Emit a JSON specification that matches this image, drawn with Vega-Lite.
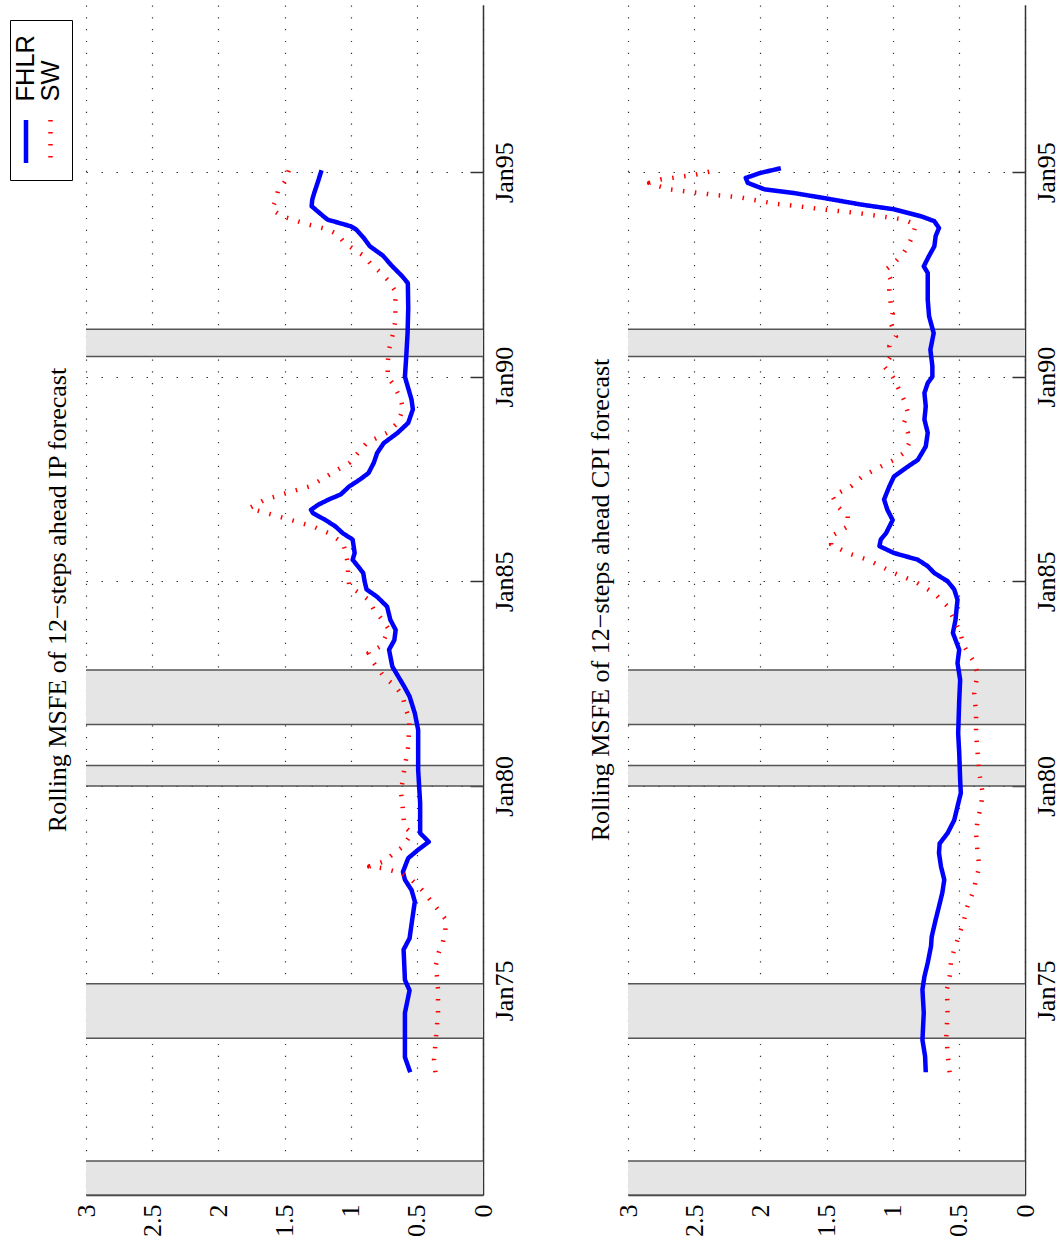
{
  "$schema": "https://vega.github.io/schema/vega-lite/v6.json",
  "padding": {"left": 9, "top": 5, "right": 0, "bottom": 0},
  "background": "white",
  "spacing": 70,
  "config": {
    "view": {"stroke": null},
    "font": "Liberation Serif",
    "axis": {"labelFont": "Liberation Serif", "labelFontSize": 26, "labelColor": "#000"},
    "title": {"font": "Liberation Serif", "fontSize": 26, "fontWeight": "normal", "color": "#000"}
  },
  "resolve": {"scale": {"color": "independent", "strokeDash": "independent"}, "legend": {"color": "independent", "strokeDash": "independent"}},
  "datasets": {
    "bands": [
      {"start": "1970-01-01", "end": "1970-11-01"},
      {"start": "1973-11-01", "end": "1975-03-01"},
      {"start": "1980-01-01", "end": "1980-07-01"},
      {"start": "1981-07-01", "end": "1982-11-01"},
      {"start": "1990-07-01", "end": "1991-03-01"}
    ],
    "ip": [
      {"series": "FHLR", "date": "1973-01-01", "value": 0.55},
      {"series": "FHLR", "date": "1973-05-15", "value": 0.59},
      {"series": "FHLR", "date": "1973-10-15", "value": 0.59},
      {"series": "FHLR", "date": "1974-06-15", "value": 0.59},
      {"series": "FHLR", "date": "1975-01-01", "value": 0.555},
      {"series": "FHLR", "date": "1975-04-05", "value": 0.59},
      {"series": "FHLR", "date": "1976-01-01", "value": 0.6},
      {"series": "FHLR", "date": "1976-04-10", "value": 0.555},
      {"series": "FHLR", "date": "1976-09-24", "value": 0.535},
      {"series": "FHLR", "date": "1977-03-05", "value": 0.515},
      {"series": "FHLR", "date": "1977-06-15", "value": 0.54},
      {"series": "FHLR", "date": "1977-09-15", "value": 0.59},
      {"series": "FHLR", "date": "1977-11-25", "value": 0.605},
      {"series": "FHLR", "date": "1978-03-27", "value": 0.565},
      {"series": "FHLR", "date": "1978-06-10", "value": 0.49},
      {"series": "FHLR", "date": "1978-08-20", "value": 0.41},
      {"series": "FHLR", "date": "1978-11-05", "value": 0.475},
      {"series": "FHLR", "date": "1979-08-01", "value": 0.475},
      {"series": "FHLR", "date": "1980-05-25", "value": 0.49},
      {"series": "FHLR", "date": "1981-05-15", "value": 0.49},
      {"series": "FHLR", "date": "1981-10-10", "value": 0.515},
      {"series": "FHLR", "date": "1982-03-10", "value": 0.555},
      {"series": "FHLR", "date": "1982-06-05", "value": 0.595},
      {"series": "FHLR", "date": "1982-12-01", "value": 0.685},
      {"series": "FHLR", "date": "1983-05-01", "value": 0.71},
      {"series": "FHLR", "date": "1983-07-25", "value": 0.67},
      {"series": "FHLR", "date": "1983-10-25", "value": 0.66},
      {"series": "FHLR", "date": "1984-01-22", "value": 0.7},
      {"series": "FHLR", "date": "1984-05-20", "value": 0.725},
      {"series": "FHLR", "date": "1984-08-15", "value": 0.8},
      {"series": "FHLR", "date": "1984-10-20", "value": 0.88},
      {"series": "FHLR", "date": "1985-01-01", "value": 0.895},
      {"series": "FHLR", "date": "1985-03-15", "value": 0.905},
      {"series": "FHLR", "date": "1985-05-15", "value": 0.945},
      {"series": "FHLR", "date": "1985-07-12", "value": 0.985},
      {"series": "FHLR", "date": "1985-09-10", "value": 0.97},
      {"series": "FHLR", "date": "1986-01-08", "value": 0.985},
      {"series": "FHLR", "date": "1986-03-06", "value": 1.06},
      {"series": "FHLR", "date": "1986-05-05", "value": 1.115},
      {"series": "FHLR", "date": "1986-07-01", "value": 1.19},
      {"series": "FHLR", "date": "1986-09-01", "value": 1.285},
      {"series": "FHLR", "date": "1986-10-01", "value": 1.3},
      {"series": "FHLR", "date": "1986-11-15", "value": 1.245},
      {"series": "FHLR", "date": "1987-01-01", "value": 1.165},
      {"series": "FHLR", "date": "1987-02-15", "value": 1.075},
      {"series": "FHLR", "date": "1987-04-28", "value": 1.01},
      {"series": "FHLR", "date": "1987-06-28", "value": 0.93},
      {"series": "FHLR", "date": "1987-08-25", "value": 0.865},
      {"series": "FHLR", "date": "1987-11-25", "value": 0.825},
      {"series": "FHLR", "date": "1988-02-20", "value": 0.8},
      {"series": "FHLR", "date": "1988-05-18", "value": 0.75},
      {"series": "FHLR", "date": "1988-08-18", "value": 0.645},
      {"series": "FHLR", "date": "1988-11-15", "value": 0.565},
      {"series": "FHLR", "date": "1989-03-15", "value": 0.53},
      {"series": "FHLR", "date": "1989-06-10", "value": 0.54},
      {"series": "FHLR", "date": "1989-10-10", "value": 0.57},
      {"series": "FHLR", "date": "1990-01-01", "value": 0.59},
      {"series": "FHLR", "date": "1990-07-01", "value": 0.58},
      {"series": "FHLR", "date": "1991-01-25", "value": 0.57},
      {"series": "FHLR", "date": "1991-09-05", "value": 0.565},
      {"series": "FHLR", "date": "1992-04-15", "value": 0.568},
      {"series": "FHLR", "date": "1992-06-15", "value": 0.61},
      {"series": "FHLR", "date": "1992-09-12", "value": 0.685},
      {"series": "FHLR", "date": "1992-12-15", "value": 0.755},
      {"series": "FHLR", "date": "1993-03-10", "value": 0.855},
      {"series": "FHLR", "date": "1993-05-22", "value": 0.9},
      {"series": "FHLR", "date": "1993-08-08", "value": 0.96},
      {"series": "FHLR", "date": "1993-09-05", "value": 1.0},
      {"series": "FHLR", "date": "1993-11-03", "value": 1.175},
      {"series": "FHLR", "date": "1994-01-01", "value": 1.235},
      {"series": "FHLR", "date": "1994-03-03", "value": 1.295},
      {"series": "FHLR", "date": "1994-05-01", "value": 1.29},
      {"series": "FHLR", "date": "1994-07-01", "value": 1.275},
      {"series": "FHLR", "date": "1994-09-27", "value": 1.25},
      {"series": "FHLR", "date": "1995-01-18", "value": 1.22},
      {"series": "SW", "date": "1973-01-01", "value": 0.36},
      {"series": "SW", "date": "1973-04-25", "value": 0.37},
      {"series": "SW", "date": "1973-11-15", "value": 0.355},
      {"series": "SW", "date": "1974-06-15", "value": 0.34},
      {"series": "SW", "date": "1975-01-10", "value": 0.34},
      {"series": "SW", "date": "1975-08-20", "value": 0.355},
      {"series": "SW", "date": "1975-12-05", "value": 0.335},
      {"series": "SW", "date": "1976-03-01", "value": 0.305},
      {"series": "SW", "date": "1976-06-10", "value": 0.285},
      {"series": "SW", "date": "1976-09-24", "value": 0.28},
      {"series": "SW", "date": "1977-03-05", "value": 0.39},
      {"series": "SW", "date": "1977-06-15", "value": 0.46},
      {"series": "SW", "date": "1977-09-15", "value": 0.54},
      {"series": "SW", "date": "1977-11-15", "value": 0.62},
      {"series": "SW", "date": "1977-12-28", "value": 0.76},
      {"series": "SW", "date": "1978-01-12", "value": 0.86},
      {"series": "SW", "date": "1978-02-25", "value": 0.75},
      {"series": "SW", "date": "1978-05-12", "value": 0.67},
      {"series": "SW", "date": "1978-07-08", "value": 0.605},
      {"series": "SW", "date": "1978-11-05", "value": 0.54},
      {"series": "SW", "date": "1979-01-05", "value": 0.595},
      {"series": "SW", "date": "1979-06-01", "value": 0.605},
      {"series": "SW", "date": "1979-11-10", "value": 0.62},
      {"series": "SW", "date": "1980-05-25", "value": 0.595},
      {"series": "SW", "date": "1980-12-20", "value": 0.565},
      {"series": "SW", "date": "1981-08-15", "value": 0.555},
      {"series": "SW", "date": "1981-12-10", "value": 0.59},
      {"series": "SW", "date": "1982-03-10", "value": 0.605},
      {"series": "SW", "date": "1982-06-05", "value": 0.66},
      {"series": "SW", "date": "1982-09-05", "value": 0.75},
      {"series": "SW", "date": "1983-01-01", "value": 0.825},
      {"series": "SW", "date": "1983-04-01", "value": 0.865},
      {"series": "SW", "date": "1983-05-30", "value": 0.775},
      {"series": "SW", "date": "1983-10-25", "value": 0.71},
      {"series": "SW", "date": "1984-01-22", "value": 0.76},
      {"series": "SW", "date": "1984-04-22", "value": 0.825},
      {"series": "SW", "date": "1984-07-20", "value": 0.865},
      {"series": "SW", "date": "1984-09-15", "value": 0.93},
      {"series": "SW", "date": "1984-11-15", "value": 1.01},
      {"series": "SW", "date": "1985-02-15", "value": 1.02},
      {"series": "SW", "date": "1985-05-15", "value": 1.02},
      {"series": "SW", "date": "1985-09-10", "value": 1.035},
      {"series": "SW", "date": "1985-12-10", "value": 1.06},
      {"series": "SW", "date": "1986-03-06", "value": 1.165},
      {"series": "SW", "date": "1986-05-05", "value": 1.285},
      {"series": "SW", "date": "1986-07-01", "value": 1.45},
      {"series": "SW", "date": "1986-09-01", "value": 1.635},
      {"series": "SW", "date": "1986-10-15", "value": 1.765},
      {"series": "SW", "date": "1987-01-01", "value": 1.645},
      {"series": "SW", "date": "1987-03-01", "value": 1.48},
      {"series": "SW", "date": "1987-04-28", "value": 1.31},
      {"series": "SW", "date": "1987-06-28", "value": 1.22},
      {"series": "SW", "date": "1987-08-25", "value": 1.14},
      {"series": "SW", "date": "1987-11-25", "value": 1.01},
      {"series": "SW", "date": "1988-02-20", "value": 0.945},
      {"series": "SW", "date": "1988-05-18", "value": 0.88},
      {"series": "SW", "date": "1988-08-18", "value": 0.725},
      {"series": "SW", "date": "1988-11-15", "value": 0.645},
      {"series": "SW", "date": "1989-03-15", "value": 0.605},
      {"series": "SW", "date": "1989-06-10", "value": 0.62},
      {"series": "SW", "date": "1989-10-10", "value": 0.67},
      {"series": "SW", "date": "1990-01-01", "value": 0.72},
      {"series": "SW", "date": "1990-05-05", "value": 0.72},
      {"series": "SW", "date": "1990-08-30", "value": 0.71},
      {"series": "SW", "date": "1990-12-28", "value": 0.685},
      {"series": "SW", "date": "1991-05-25", "value": 0.66},
      {"series": "SW", "date": "1991-10-20", "value": 0.665},
      {"series": "SW", "date": "1992-01-20", "value": 0.655},
      {"series": "SW", "date": "1992-05-01", "value": 0.71},
      {"series": "SW", "date": "1992-07-15", "value": 0.77},
      {"series": "SW", "date": "1992-09-28", "value": 0.845},
      {"series": "SW", "date": "1992-12-15", "value": 0.9},
      {"series": "SW", "date": "1993-02-10", "value": 0.975},
      {"series": "SW", "date": "1993-04-08", "value": 1.045},
      {"series": "SW", "date": "1993-06-25", "value": 1.1},
      {"series": "SW", "date": "1993-08-08", "value": 1.175},
      {"series": "SW", "date": "1993-09-05", "value": 1.265},
      {"series": "SW", "date": "1993-09-28", "value": 1.35},
      {"series": "SW", "date": "1993-11-03", "value": 1.435},
      {"series": "SW", "date": "1993-12-03", "value": 1.52},
      {"series": "SW", "date": "1994-02-03", "value": 1.595},
      {"series": "SW", "date": "1994-05-01", "value": 1.565},
      {"series": "SW", "date": "1994-07-15", "value": 1.55},
      {"series": "SW", "date": "1994-10-12", "value": 1.495},
      {"series": "SW", "date": "1995-01-25", "value": 1.465}
    ],
    "cpi": [
      {"series": "FHLR", "date": "1973-01-01", "value": 0.75},
      {"series": "FHLR", "date": "1973-05-24", "value": 0.755},
      {"series": "FHLR", "date": "1973-10-15", "value": 0.775},
      {"series": "FHLR", "date": "1974-06-15", "value": 0.765},
      {"series": "FHLR", "date": "1975-01-10", "value": 0.775},
      {"series": "FHLR", "date": "1975-05-05", "value": 0.76},
      {"series": "FHLR", "date": "1975-09-05", "value": 0.735},
      {"series": "FHLR", "date": "1976-02-01", "value": 0.71},
      {"series": "FHLR", "date": "1976-04-25", "value": 0.705},
      {"series": "FHLR", "date": "1976-09-24", "value": 0.675},
      {"series": "FHLR", "date": "1977-01-20", "value": 0.65},
      {"series": "FHLR", "date": "1977-05-20", "value": 0.625},
      {"series": "FHLR", "date": "1977-09-15", "value": 0.61},
      {"series": "FHLR", "date": "1978-01-12", "value": 0.635},
      {"series": "FHLR", "date": "1978-05-12", "value": 0.65},
      {"series": "FHLR", "date": "1978-08-05", "value": 0.645},
      {"series": "FHLR", "date": "1978-11-05", "value": 0.585},
      {"series": "FHLR", "date": "1979-03-01", "value": 0.535},
      {"series": "FHLR", "date": "1979-07-01", "value": 0.51},
      {"series": "FHLR", "date": "1979-10-30", "value": 0.485},
      {"series": "FHLR", "date": "1980-02-25", "value": 0.49},
      {"series": "FHLR", "date": "1980-10-20", "value": 0.497},
      {"series": "FHLR", "date": "1981-04-15", "value": 0.505},
      {"series": "FHLR", "date": "1982-02-05", "value": 0.497},
      {"series": "FHLR", "date": "1982-08-05", "value": 0.49},
      {"series": "FHLR", "date": "1983-01-01", "value": 0.51},
      {"series": "FHLR", "date": "1983-05-01", "value": 0.497},
      {"series": "FHLR", "date": "1983-09-28", "value": 0.545},
      {"series": "FHLR", "date": "1984-01-22", "value": 0.525},
      {"series": "FHLR", "date": "1984-03-25", "value": 0.52},
      {"series": "FHLR", "date": "1984-07-20", "value": 0.51},
      {"series": "FHLR", "date": "1984-10-20", "value": 0.535},
      {"series": "FHLR", "date": "1985-01-01", "value": 0.585},
      {"series": "FHLR", "date": "1985-03-15", "value": 0.685},
      {"series": "FHLR", "date": "1985-05-15", "value": 0.735},
      {"series": "FHLR", "date": "1985-07-12", "value": 0.81},
      {"series": "FHLR", "date": "1985-09-10", "value": 0.99},
      {"series": "FHLR", "date": "1985-11-10", "value": 1.1},
      {"series": "FHLR", "date": "1986-01-08", "value": 1.09},
      {"series": "FHLR", "date": "1986-03-06", "value": 1.05},
      {"series": "FHLR", "date": "1986-07-01", "value": 1.0},
      {"series": "FHLR", "date": "1986-10-01", "value": 1.04},
      {"series": "FHLR", "date": "1987-01-01", "value": 1.065},
      {"series": "FHLR", "date": "1987-04-28", "value": 1.025},
      {"series": "FHLR", "date": "1987-07-25", "value": 0.99},
      {"series": "FHLR", "date": "1987-10-22", "value": 0.885},
      {"series": "FHLR", "date": "1987-12-20", "value": 0.81},
      {"series": "FHLR", "date": "1988-04-18", "value": 0.75},
      {"series": "FHLR", "date": "1988-08-18", "value": 0.735},
      {"series": "FHLR", "date": "1988-12-15", "value": 0.76},
      {"series": "FHLR", "date": "1989-04-12", "value": 0.75},
      {"series": "FHLR", "date": "1989-08-08", "value": 0.76},
      {"series": "FHLR", "date": "1989-11-05", "value": 0.735},
      {"series": "FHLR", "date": "1990-01-01", "value": 0.7},
      {"series": "FHLR", "date": "1990-04-05", "value": 0.7},
      {"series": "FHLR", "date": "1990-08-30", "value": 0.715},
      {"series": "FHLR", "date": "1991-01-25", "value": 0.69},
      {"series": "FHLR", "date": "1991-06-25", "value": 0.725},
      {"series": "FHLR", "date": "1991-11-20", "value": 0.735},
      {"series": "FHLR", "date": "1992-02-18", "value": 0.735},
      {"series": "FHLR", "date": "1992-07-15", "value": 0.735},
      {"series": "FHLR", "date": "1992-09-12", "value": 0.765},
      {"series": "FHLR", "date": "1992-12-15", "value": 0.725},
      {"series": "FHLR", "date": "1993-03-10", "value": 0.685},
      {"series": "FHLR", "date": "1993-06-10", "value": 0.675},
      {"series": "FHLR", "date": "1993-08-20", "value": 0.65},
      {"series": "FHLR", "date": "1993-10-20", "value": 0.685},
      {"series": "FHLR", "date": "1993-12-03", "value": 0.785},
      {"series": "FHLR", "date": "1994-02-03", "value": 0.99},
      {"series": "FHLR", "date": "1994-03-18", "value": 1.24},
      {"series": "FHLR", "date": "1994-05-15", "value": 1.52},
      {"series": "FHLR", "date": "1994-06-28", "value": 1.745},
      {"series": "FHLR", "date": "1994-08-01", "value": 1.97},
      {"series": "FHLR", "date": "1994-09-27", "value": 2.095},
      {"series": "FHLR", "date": "1994-11-10", "value": 2.11},
      {"series": "FHLR", "date": "1994-12-25", "value": 2.0},
      {"series": "FHLR", "date": "1995-02-05", "value": 1.845},
      {"series": "SW", "date": "1973-01-01", "value": 0.57},
      {"series": "SW", "date": "1973-04-25", "value": 0.58},
      {"series": "SW", "date": "1973-11-15", "value": 0.595},
      {"series": "SW", "date": "1974-06-15", "value": 0.585},
      {"series": "SW", "date": "1975-01-10", "value": 0.59},
      {"series": "SW", "date": "1975-05-05", "value": 0.57},
      {"series": "SW", "date": "1975-09-05", "value": 0.56},
      {"series": "SW", "date": "1976-01-01", "value": 0.535},
      {"series": "SW", "date": "1976-05-01", "value": 0.5},
      {"series": "SW", "date": "1976-09-24", "value": 0.46},
      {"series": "SW", "date": "1977-01-20", "value": 0.435},
      {"series": "SW", "date": "1977-05-20", "value": 0.395},
      {"series": "SW", "date": "1977-09-15", "value": 0.37},
      {"series": "SW", "date": "1978-01-12", "value": 0.345},
      {"series": "SW", "date": "1978-05-12", "value": 0.358},
      {"series": "SW", "date": "1978-11-05", "value": 0.37},
      {"series": "SW", "date": "1979-03-01", "value": 0.358},
      {"series": "SW", "date": "1979-07-01", "value": 0.333},
      {"series": "SW", "date": "1979-10-30", "value": 0.32},
      {"series": "SW", "date": "1980-04-22", "value": 0.345},
      {"series": "SW", "date": "1980-10-20", "value": 0.358},
      {"series": "SW", "date": "1981-04-15", "value": 0.37},
      {"series": "SW", "date": "1981-10-10", "value": 0.37},
      {"series": "SW", "date": "1982-04-08", "value": 0.383},
      {"series": "SW", "date": "1982-10-05", "value": 0.358},
      {"series": "SW", "date": "1983-01-30", "value": 0.395},
      {"series": "SW", "date": "1983-05-30", "value": 0.46},
      {"series": "SW", "date": "1983-10-25", "value": 0.497},
      {"series": "SW", "date": "1984-01-22", "value": 0.535},
      {"series": "SW", "date": "1984-05-20", "value": 0.585},
      {"series": "SW", "date": "1984-09-15", "value": 0.685},
      {"series": "SW", "date": "1985-01-01", "value": 0.835},
      {"series": "SW", "date": "1985-03-15", "value": 0.99},
      {"series": "SW", "date": "1985-05-15", "value": 1.09},
      {"series": "SW", "date": "1985-07-12", "value": 1.19},
      {"series": "SW", "date": "1985-09-10", "value": 1.34},
      {"series": "SW", "date": "1985-11-25", "value": 1.465},
      {"series": "SW", "date": "1986-02-05", "value": 1.465},
      {"series": "SW", "date": "1986-05-05", "value": 1.34},
      {"series": "SW", "date": "1986-08-03", "value": 1.34},
      {"series": "SW", "date": "1986-10-30", "value": 1.415},
      {"series": "SW", "date": "1987-01-30", "value": 1.455},
      {"series": "SW", "date": "1987-04-28", "value": 1.315},
      {"series": "SW", "date": "1987-07-25", "value": 1.23},
      {"series": "SW", "date": "1987-10-22", "value": 1.09},
      {"series": "SW", "date": "1987-12-20", "value": 0.99},
      {"series": "SW", "date": "1988-02-20", "value": 0.915},
      {"series": "SW", "date": "1988-05-18", "value": 0.875},
      {"series": "SW", "date": "1988-08-18", "value": 0.885},
      {"series": "SW", "date": "1988-11-15", "value": 0.915},
      {"series": "SW", "date": "1989-02-15", "value": 0.885},
      {"series": "SW", "date": "1989-06-10", "value": 0.915},
      {"series": "SW", "date": "1989-10-10", "value": 0.965},
      {"series": "SW", "date": "1990-01-01", "value": 1.0},
      {"series": "SW", "date": "1990-04-05", "value": 1.065},
      {"series": "SW", "date": "1990-07-01", "value": 1.015},
      {"series": "SW", "date": "1990-10-01", "value": 1.025},
      {"series": "SW", "date": "1990-12-28", "value": 0.975},
      {"series": "SW", "date": "1991-04-25", "value": 1.015},
      {"series": "SW", "date": "1991-07-22", "value": 1.0},
      {"series": "SW", "date": "1991-10-20", "value": 1.015},
      {"series": "SW", "date": "1992-02-18", "value": 1.025},
      {"series": "SW", "date": "1992-05-18", "value": 1.015},
      {"series": "SW", "date": "1992-08-15", "value": 1.05},
      {"series": "SW", "date": "1992-10-12", "value": 0.99},
      {"series": "SW", "date": "1992-12-28", "value": 0.925},
      {"series": "SW", "date": "1993-03-10", "value": 0.885},
      {"series": "SW", "date": "1993-06-10", "value": 0.85},
      {"series": "SW", "date": "1993-09-20", "value": 0.825},
      {"series": "SW", "date": "1993-11-03", "value": 0.915},
      {"series": "SW", "date": "1993-12-03", "value": 1.09},
      {"series": "SW", "date": "1994-01-01", "value": 1.265},
      {"series": "SW", "date": "1994-02-03", "value": 1.53},
      {"series": "SW", "date": "1994-03-03", "value": 1.715},
      {"series": "SW", "date": "1994-03-25", "value": 1.895},
      {"series": "SW", "date": "1994-04-15", "value": 1.985},
      {"series": "SW", "date": "1994-05-22", "value": 2.16},
      {"series": "SW", "date": "1994-06-12", "value": 2.345},
      {"series": "SW", "date": "1994-07-08", "value": 2.525},
      {"series": "SW", "date": "1994-08-03", "value": 2.7},
      {"series": "SW", "date": "1994-09-27", "value": 2.84},
      {"series": "SW", "date": "1994-10-27", "value": 2.755},
      {"series": "SW", "date": "1994-12-10", "value": 2.49},
      {"series": "SW", "date": "1995-01-25", "value": 2.31}
    ]
  },
  "hconcat": [
    {
      "width": 397,
      "height": 1190,
      "title": {"text": "Rolling MSFE of 12−steps ahead IP forecast", "orient": "left", "offset": -61},
      "layer": [
        {
          "data": {"name": "bands"},
          "mark": {"type": "rect", "fill": "#e5e5e5"},
          "encoding": {
            "y": {"field": "start", "type": "temporal", "title": null,
              "scale": {"type": "utc", "nice": false, "domain": [{"year": 1970, "month": 1, "date": 1, "utc": true}, {"year": 1999, "month": 2, "date": 1, "utc": true}]},
              "axis": {"orient": "right", "values": [{"year": 1975, "month": 1, "date": 1, "utc": true}, {"year": 1980, "month": 1, "date": 1, "utc": true}, {"year": 1985, "month": 1, "date": 1, "utc": true}, {"year": 1990, "month": 1, "date": 1, "utc": true}, {"year": 1995, "month": 1, "date": 1, "utc": true}],
                "format": "%b%y", "labelAngle": 270, "labelAlign": "center", "labelBaseline": "top", "labelPadding": 21, "tickSize": -13, "tickColor": "#333", "tickWidth": 1.5, "domainColor": "#333", "domainWidth": 1.5, "grid": true, "gridDash": [1.5, 13.5], "gridColor": "#333", "gridWidth": 1.2, "labelOverlap": false, "labelFlush": false}},
            "y2": {"field": "end"},
            "x": {"datum": 3, "type": "quantitative", "title": null,
              "scale": {"domain": [0, 3], "reverse": true, "nice": false},
              "axis": {"values": [0, 0.5, 1, 1.5, 2, 2.5, 3], "format": "~g", "labelAngle": 270, "labelPadding": 9, "ticks": false, "domainColor": "#333", "domainWidth": 1.5, "grid": true, "gridDash": [1.2, 10.6], "gridColor": "#333", "gridWidth": 1.2, "labelOverlap": false, "labelFlush": false}},
            "x2": {"datum": 0}
          }
        },
        {
          "data": {"name": "bands"},
          "mark": {"type": "rule", "color": "#555", "strokeWidth": 1.5},
          "encoding": {"y": {"field": "start", "type": "temporal", "title": null, "scale": {"type": "utc"}}}
        },
        {
          "data": {"name": "bands"},
          "mark": {"type": "rule", "color": "#555", "strokeWidth": 1.5},
          "encoding": {"y": {"field": "end", "type": "temporal", "title": null, "scale": {"type": "utc"}}}
        },
        {
          "data": {"name": "ip"},
          "mark": {"type": "line", "strokeWidth": 4.5, "strokeCap": "butt", "strokeJoin": "round"},
          "encoding": {
            "y": {"field": "date", "type": "temporal", "title": null, "scale": {"type": "utc"}},
            "x": {"field": "value", "type": "quantitative", "title": null},
            "order": {"field": "date", "type": "temporal"},
            "color": {"field": "series", "type": "nominal",
              "scale": {"domain": ["FHLR", "SW"], "range": ["#0000ff", "#ff0000"]},
              "legend": {"orient": "none", "legendX": -76, "legendY": 15, "direction": "horizontal", "title": null,
                "symbolType": "M0,-1L0,1", "symbolSize": 1849, "symbolStrokeWidth": 4.5,
                "labelFont": "Liberation Sans", "labelFontSize": 25.5, "labelColor": "#000", "labelLimit": 0,
                "labelAlign": "left", "labelBaseline": "middle",
                "strokeColor": "#000", "fillColor": "#fff", "padding": 8, "columnPadding": -1.5,
                "encode": {
                  "symbols": {"update": {"x": {"value": 8}, "y": {"value": 113.5}}},
                  "labels": {"update": {"angle": {"value": -90}, "x": {"value": 8}, "y": {"value": 73.6}, "align": {"value": "left"}, "baseline": {"value": "middle"}}}
                }}},
            "strokeDash": {"field": "series", "type": "nominal",
              "scale": {"domain": ["FHLR", "SW"], "range": [[1, 0], [1.5, 10.5]]}}
          }
        }
      ]
    },
    {
      "width": 397,
      "height": 1190,
      "title": {"text": "Rolling MSFE of 12−steps ahead CPI forecast", "orient": "left", "offset": 1},
      "layer": [
        {
          "data": {"name": "bands"},
          "mark": {"type": "rect", "fill": "#e5e5e5"},
          "encoding": {
            "y": {"field": "start", "type": "temporal", "title": null,
              "scale": {"type": "utc", "nice": false, "domain": [{"year": 1970, "month": 1, "date": 1, "utc": true}, {"year": 1999, "month": 2, "date": 1, "utc": true}]},
              "axis": {"orient": "right", "values": [{"year": 1975, "month": 1, "date": 1, "utc": true}, {"year": 1980, "month": 1, "date": 1, "utc": true}, {"year": 1985, "month": 1, "date": 1, "utc": true}, {"year": 1990, "month": 1, "date": 1, "utc": true}, {"year": 1995, "month": 1, "date": 1, "utc": true}],
                "format": "%b%y", "labelAngle": 270, "labelAlign": "center", "labelBaseline": "top", "labelPadding": 21, "tickSize": -13, "tickColor": "#333", "tickWidth": 1.5, "domainColor": "#333", "domainWidth": 1.5, "grid": true, "gridDash": [1.5, 13.5], "gridColor": "#333", "gridWidth": 1.2, "labelOverlap": false, "labelFlush": false}},
            "y2": {"field": "end"},
            "x": {"datum": 3, "type": "quantitative", "title": null,
              "scale": {"domain": [0, 3], "reverse": true, "nice": false},
              "axis": {"values": [0, 0.5, 1, 1.5, 2, 2.5, 3], "format": "~g", "labelAngle": 270, "labelPadding": 9, "ticks": false, "domainColor": "#333", "domainWidth": 1.5, "grid": true, "gridDash": [1.2, 10.6], "gridColor": "#333", "gridWidth": 1.2, "labelOverlap": false, "labelFlush": false}},
            "x2": {"datum": 0}
          }
        },
        {
          "data": {"name": "bands"},
          "mark": {"type": "rule", "color": "#555", "strokeWidth": 1.5},
          "encoding": {"y": {"field": "start", "type": "temporal", "title": null, "scale": {"type": "utc"}}}
        },
        {
          "data": {"name": "bands"},
          "mark": {"type": "rule", "color": "#555", "strokeWidth": 1.5},
          "encoding": {"y": {"field": "end", "type": "temporal", "title": null, "scale": {"type": "utc"}}}
        },
        {
          "data": {"name": "cpi"},
          "mark": {"type": "line", "strokeWidth": 4.5, "strokeCap": "butt", "strokeJoin": "round"},
          "encoding": {
            "y": {"field": "date", "type": "temporal", "title": null, "scale": {"type": "utc"}},
            "x": {"field": "value", "type": "quantitative", "title": null},
            "order": {"field": "date", "type": "temporal"},
            "color": {"field": "series", "type": "nominal",
              "scale": {"domain": ["FHLR", "SW"], "range": ["#0000ff", "#ff0000"]}, "legend": null},
            "strokeDash": {"field": "series", "type": "nominal",
              "scale": {"domain": ["FHLR", "SW"], "range": [[1, 0], [1.5, 10.5]]}, "legend": null}
          }
        }
      ]
    }
  ]
}
